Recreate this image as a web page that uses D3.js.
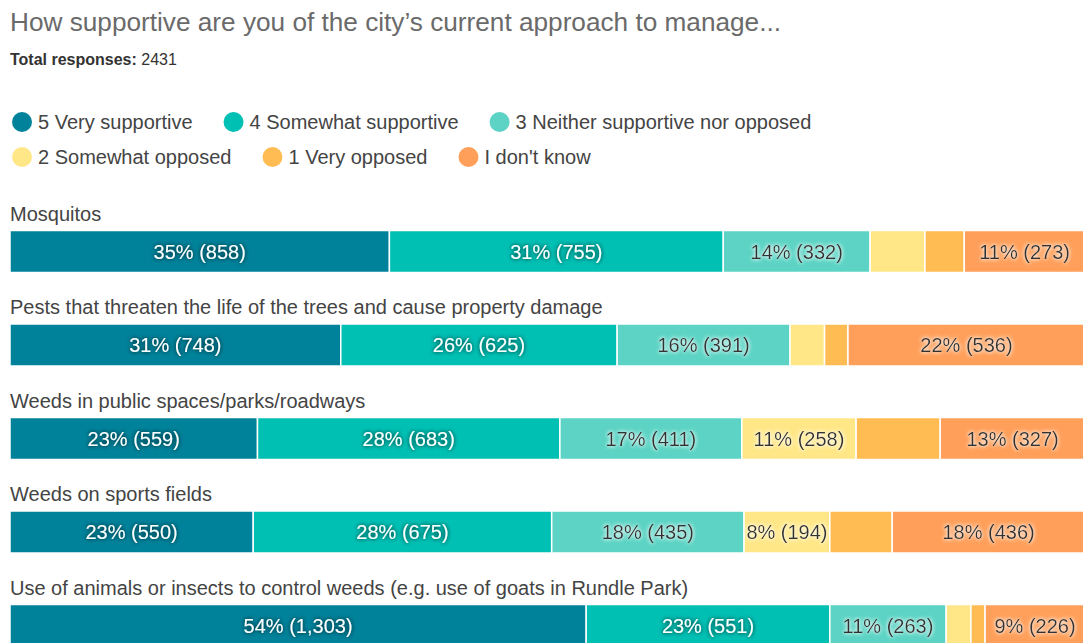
<!DOCTYPE html>
<html>
<head>
<meta charset="utf-8">
<script src="https://cdn.jsdelivr.net/npm/d3@7"></script>
<style>
  body { margin: 0; background: #fff; }
  svg text { font-family: "Helvetica Neue", Helvetica, Arial, "Liberation Sans", sans-serif; }
  .title { font-size: 26.2px; fill: #6a6a6a; font-weight: 300; }
  .total { font-size: 16px; fill: #333; }
  .legend text { font-size: 20px; fill: #444; }
  .cat { font-size: 20px; fill: #444; }
  .seglabel { font-size: 20px; }
</style>
</head>
<body>
<div id="chart"></div>
<script>
// survey: how supportive are you of the city's current approach...
const TOTAL = 2431
const TITLE = "How supportive are you of the city\u2019s current approach to manage..."

const answers = ["5 Very supportive", "4 Somewhat supportive", "3 Neither supportive nor opposed",
                 "2 Somewhat opposed", "1 Very opposed", "I don't know"]
const colors  = ["#00829a", "#00bfb3", "#5cd3c4", "#ffe788", "#ffbc52", "#ff9f5a"]

const topics = ["Mosquitos",
                "Pests that threaten the life of the trees and cause property damage",
                "Weeds in public spaces/parks/roadways",
                "Weeds on sports fields",
                "Use of animals or insects to control weeds (e.g. use of goats in Rundle Park)"]

// counts per answer, same order as answers
const mosquitos = [858, 755, 332, 124, 89, 273]
const pests     = [748, 625, 391, 78, 53, 536]
const weedsPub  = [559, 683, 411, 258, 190, 327]
const weedsSport= [550, 675, 435, 194, 141, 436]
const animals   = [1303, 551, 263, 56, 32, 226]
const counts = [mosquitos, pests, weedsPub, weedsSport, animals]

const W = 1083, H = 643
const MARGIN = {LEFT: 10, RIGHT: -2}
const BAR = {TOP: 30.5, HEIGHT: 42, LABEL: 20.5}

const svg = d3.select("#chart").append("svg")
  .attr("width", W).attr("height", H)

// glow filters for the labels inside the bars
const defs = svg.append("defs")
function glow(id, color, op) {
  let f = defs.append("filter").attr("id", id)
    .attr("x", "-20%").attr("y", "-40%").attr("width", "140%").attr("height", "180%")
  f.append("feGaussianBlur").attr("in", "SourceAlpha").attr("stdDeviation", 2).attr("result", "b")
  f.append("feFlood").attr("flood-color", color).attr("flood-opacity", op)
  f.append("feComposite").attr("in2", "b").attr("operator", "in").attr("result", "g")
  let m = f.append("feMerge")
  m.append("feMergeNode").attr("in", "g")
  m.append("feMergeNode").attr("in", "g")
  m.append("feMergeNode").attr("in", "SourceGraphic")
}
glow("glowDark", "#000", 0.45)
glow("glowLight", "#fff", 0.8)

svg.append("text").attr("class", "title")
  .attr("x", 10).attr("y", 31).text(TITLE)

let tot = svg.append("text").attr("class", "total").attr("x", 10).attr("y", 65)
tot.append("tspan").attr("font-weight", "bold").text("Total responses: ")
tot.append("tspan").text(TOTAL)

// legend, flowing left to right and wrapping
const legend = svg.append("g").attr("class", "legend")
let lx = 12, ly = 122
answers.forEach((a, i) => {
  let g = legend.append("g")
  g.append("circle").attr("cx", lx + 10).attr("cy", ly).attr("r", 10).attr("fill", colors[i])
  let t = g.append("text").attr("x", lx + 26).attr("y", ly + 7).text(a)
  let w = t.node().getComputedTextLength()
  if (i === 2) { lx = 12; ly += 35 }
  else lx = lx + 26 + w + 31
})

// rows
const y = d3.scaleBand().domain(topics).range([200, 200 + 93.5 * topics.length])
const color = d3.scaleOrdinal().domain(answers).range(colors)
const pct = d3.format(".0%")
const num = d3.format(",")

topics.forEach((topic, r) => {
  let row = counts[r]
  let sum = d3.sum(row)
  let x = d3.scaleLinear().domain([0, sum]).range([MARGIN.LEFT, W - MARGIN.RIGHT])
  let stack = d3.cumsum(row)
  let segs = row.map((v, i) => ({v: v, i: i, x0: stack[i] - v, x1: stack[i]}))
  let g = svg.append("g").attr("transform", `translate(0,${y(topic)})`)

  g.append("text").attr("class", "cat").attr("x", 10).attr("y", BAR.LABEL).text(topic)

  g.selectAll("rect").data(segs).enter().append("rect")
    .attr("x", d => x(d.x0))
    .attr("y", BAR.TOP)
    .attr("width", d => x(d.x1) - x(d.x0))
    .attr("height", BAR.HEIGHT)
    .attr("fill", d => color(answers[d.i]))
    .attr("stroke", "#fff").attr("stroke-width", 1.5)

  g.selectAll(".seglabel").data(segs).enter().append("text")
    .attr("class", "seglabel")
    .attr("x", d => (x(d.x0) + x(d.x1)) / 2)
    .attr("y", BAR.TOP + BAR.HEIGHT / 2 + 7)
    .attr("text-anchor", "middle")
    .attr("fill", d => d.i < 2 ? "#fff" : "#333")
    .attr("filter", d => d.i < 2 ? "url(#glowDark)" : "url(#glowLight)")
    .text(d => `${pct(d.v / TOTAL)} (${num(d.v)})`)
    .each(function(d) {
      // only keep labels that fit in their segment
      let w = x(d.x1) - x(d.x0)
      if (this.getComputedTextLength() + 3 > w) d3.select(this).remove()
    })
})
</script>
</body>
</html>
